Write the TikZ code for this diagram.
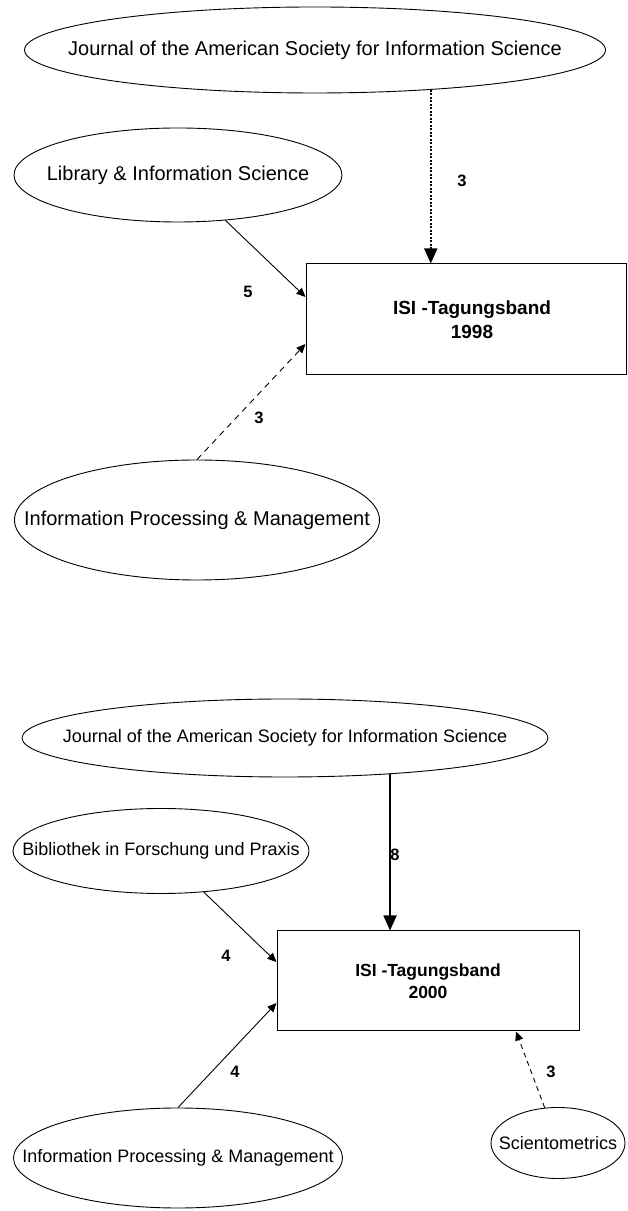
\documentclass[tikz,border=0pt]{standalone}
\usepackage{fontspec}
\setmainfont{Liberation Sans}
\usetikzlibrary{shapes,arrows.meta,positioning}

\begin{document}
\begin{tikzpicture}[
    x=1pt, y=1pt,
    journal/.style={ellipse, draw=black, line width=0.9pt, inner sep=0pt},
    jtxtA/.style={font=\fontsize{20}{24}\selectfont},
    jtxtB/.style={font=\fontsize{18}{22}\selectfont},
    volume/.style={rectangle, draw=black, line width=1pt, align=center, inner sep=0pt},
    count/.style={font=\bfseries\fontsize{16.5}{20}\selectfont, inner sep=0pt},
    arrow/.style={line width=0.9pt, -{Triangle[length=9pt,width=8pt]}},
    bigarrow/.style={line width=1.8pt, -{Triangle[length=15pt,width=13pt]}}
]
\useasboundingbox (0,0) rectangle (627,1211);

% 1998
\node[journal, minimum width=581pt, minimum height=86pt,
      label={[jtxtA]center:Journal of the American Society for Information Science}] (jasA) at (315,1161) {};
\node[journal, minimum width=328pt, minimum height=94pt,
      label={[jtxtA]center:Library \& Information Science}] (libA) at (178,1036) {};
\node[journal, minimum width=365pt, minimum height=120pt,
      label={[jtxtA]center:Information Processing \& Management}] (ipmA) at (197,691) {};
\node[volume, minimum width=320pt, minimum height=111pt,
      font=\bfseries\fontsize{19}{24}\selectfont] (boxA) at (466,891.5) {\hspace*{12pt}ISI -Tagungsband\\\hspace*{12pt}1998};

\draw[bigarrow, line width=1.6pt, dash pattern=on 2pt off 1.5pt] (jasA.-19.7) -- (jasA.-19.7 |- boxA.north);
\draw[arrow] (libA) -- ([yshift=22.5pt]boxA.west);
\draw[arrow, dash pattern=on 6pt off 5pt] (ipmA.north) -- ([yshift=-24.5pt]boxA.west);

\node[count] (nA1) at (462,1030) {3};
\node[count] (nA2) at (248,919) {5};
\node[count] (nA3) at (259,793) {3};

% 2000
\node[journal, minimum width=526pt, minimum height=78pt,
      label={[jtxtB]center:Journal of the American Society for Information Science}] (jasB) at (285,473) {};
\node[journal, minimum width=296pt, minimum height=85pt,
      label={[jtxtB]center:Bibliothek in Forschung und Praxis}] (bibB) at (161,360) {};
\node[journal, minimum width=329pt, minimum height=100pt,
      label={[jtxtB]center:Information Processing \& Management}] (ipmB) at (178,53) {};
\node[journal, minimum width=134pt, minimum height=71pt,
      label={[jtxtB]center:Scientometrics}] (sciB) at (558,68) {};
\node[volume, minimum width=302pt, minimum height=100pt,
      font=\bfseries\fontsize{17.5}{22}\selectfont] (boxB) at (428,230) {ISI -Tagungsband\\2000};

\draw[bigarrow] (jasB.-19.8) -- (jasB.-19.8 |- boxB.north);
\draw[arrow] (bibB) -- ([yshift=19pt]boxB.west);
\draw[arrow] (ipmB.north) -- ([yshift=-22pt]boxB.west);
\draw[arrow, dash pattern=on 5pt off 4pt] (sciB) -- ([xshift=88pt]boxB.south);

\node[count] (nB1) at (395,356) {8};
\node[count] (nB2) at (226,255) {4};
\node[count] (nB3) at (235,139) {4};
\node[count] (nB4) at (551,139) {3};
\end{tikzpicture}
\end{document}
